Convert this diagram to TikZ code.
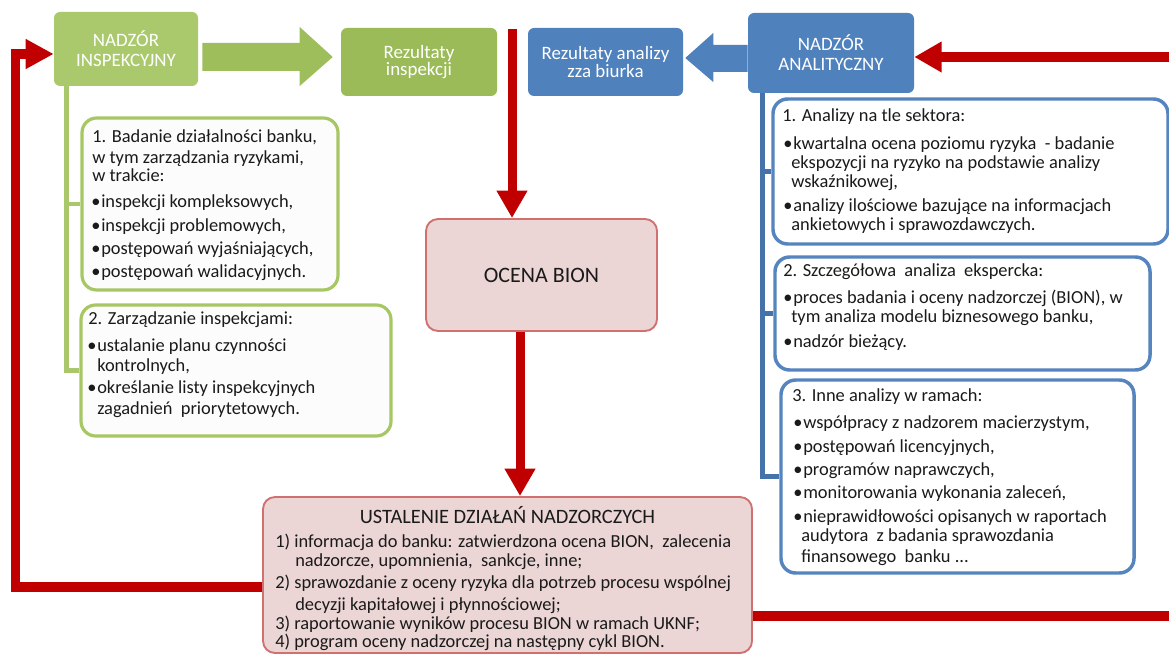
\documentclass[tikz,border=0pt]{standalone}
\usepackage{fontspec}
\setmainfont{Carlito}
\usetikzlibrary{arrows.meta,calc}

\definecolor{grnlt}{HTML}{AAC96C}
\definecolor{grn}{HTML}{9BBB59}
\definecolor{grnarrow}{HTML}{9EBE5C}
\definecolor{grnline}{HTML}{A9C86B}
\definecolor{grnedge}{HTML}{A6C763}
\definecolor{blu}{HTML}{4F81BD}
\definecolor{bluedge}{HTML}{5584BE}
\definecolor{bluline}{HTML}{4672AC}
\definecolor{redc}{HTML}{C00000}
\definecolor{pinkfill}{HTML}{EBD5D5}
\definecolor{pinkdraw}{HTML}{D07070}
\definecolor{boxfill}{HTML}{FCFCFC}
\definecolor{ink}{HTML}{1A1A1A}

\newcommand\fbody{\fontsize{13.8pt}{15pt}\selectfont}
\newcommand\fhdr{\fontsize{14.2pt}{15pt}\selectfont}
\newcommand\fhdrtight{\fontsize{14.2pt}{12pt}\selectfont}
\newcommand\focena{\fontsize{16.5pt}{18pt}\selectfont}
\newcommand\ftitle{\fontsize{15.3pt}{17pt}\selectfont}
\newcommand\blt{\makebox[7.5pt][l]{•}}
\newcommand\tline[4]{\node[txt] (#1) at (#2,#3) {#4};}

\tikzset{
  hdr/.style={rounded corners=4.5pt, inner sep=0pt, text=white, align=center},
  grnbox/.style={draw=grnedge, fill=boxfill, line width=2.4pt, rounded corners=11pt, inner sep=0pt},
  blubox/.style={draw=bluedge, fill=white, line width=2.6pt, rounded corners=11pt, inner sep=0pt},
  pinkbox/.style={draw=pinkdraw, fill=pinkfill, line width=1.4pt, rounded corners=9pt, inner sep=0pt},
  txt/.style={anchor=base west, inner sep=0pt, text=ink, font=\fbody},
  gline/.style={draw=grnline, line width=3.6pt},
  bline/.style={draw=bluline, line width=3.6pt},
  redarrow/.style={draw=redc, line width=6.75pt, -{Triangle[width=21.75pt,length=20.5pt]}},
  redline/.style={draw=redc, line width=7pt, line join=miter},
}

\begin{document}
\begin{tikzpicture}[x=0.75pt,y=-0.75pt]
\useasboundingbox (0,0) rectangle (1169,655);
\clip (0,0) rectangle (1169,655);

% header boxes
\node[hdr, fill=grnlt, minimum width=108pt, minimum height=55.5pt, font=\fhdr] (ni) at (126,49) {NADZÓR\\INSPEKCYJNY};
\node[hdr, fill=grn, minimum width=117pt, minimum height=51pt, font=\fhdrtight] (ri) at (419,62) {Rezultaty\\inspekcji};
\node[hdr, fill=blu, minimum width=116.25pt, minimum height=51pt, font=\fhdrtight] (ra) at (605.5,62) {Rezultaty analizy\\zza biurka};
\node[hdr, fill=blu, minimum width=124.5pt, minimum height=60pt, font=\fhdr] (na) at (831,53) {NADZÓR\\ANALITYCZNY};

% block arrows between header boxes
\coordinate (ga0) at ($(ni.east)+(4,8)$);
\coordinate (ga1) at ($(ri.west)+(-8,-5)$);
\fill[grnarrow] ($(ga0)+(0,-14)$) -- ($(ga1)+(-33,-14)$) -- ($(ga1)+(-33,-30)$) -- (ga1)
  -- ($(ga1)+(-33,29)$) -- ($(ga1)+(-33,14)$) -- ($(ga0)+(0,14)$) -- cycle;
\coordinate (ba0) at ($(na.west)+(0,5)$);
\coordinate (ba1) at ($(ra.east)+(2,-4)$);
\fill[blu] ($(ba0)+(0,-13)$) -- ($(ba1)+(28,-13)$) -- ($(ba1)+(28,-25)$) -- (ba1)
  -- ($(ba1)+(28,24)$) -- ($(ba1)+(28,14)$) -- ($(ba0)+(0,14)$) -- cycle;

% central boxes
\node[pinkbox, minimum width=173.25pt, minimum height=84pt, font=\focena, text=ink] (ocena) at (541.5,275) {OCENA BION};
\node[pinkbox, minimum width=366.75pt, minimum height=117pt] (bottom) at (507.5,575) {};

% inspection side boxes
\node[grnbox, minimum width=192pt, minimum height=129pt] (box1) at (210,204) {};
\node[grnbox, minimum width=232.5pt, minimum height=98.25pt] (box2) at (236,370.5) {};
% analytic side boxes
\node[blubox, minimum width=296.25pt, minimum height=108.75pt] (a1) at (970.5,171.5) {};
\node[blubox, minimum width=281.25pt, minimum height=84.75pt] (a2) at (962.5,313.5) {};
\node[blubox, minimum width=264.75pt, minimum height=144.75pt] (a3) at (957.5,476.5) {};

% tree connectors
\coordinate (gtrunk) at ($(ni.south west)+(13,0)$);
\draw[gline] (gtrunk) |- (box2.west);
\draw[gline] (gtrunk) |- (box1.west);
\coordinate (btrunk) at ($(na.south west)+(15,0)$);
\draw[bline] (btrunk) |- (a3.west);
\draw[bline] (btrunk) |- (a2.west);
\draw[bline] (btrunk) |- (a1.west);

% red flow
\coordinate (rtop) at (512,29);
\draw[redarrow] (rtop) -- (rtop |- ocena.north);
\coordinate (rmid) at (520,0);
\draw[redarrow] (ocena.south -| rmid) -- (bottom.north -| rmid);
\draw[redline, -{Triangle[width=21pt,length=21pt]}] ($(bottom.west)+(0,12)$) -| ($(ni.west)+(-38,5)$) -- ($(ni.west)+(0,5)$);
\coordinate (rin) at (1169,57);
\draw[redarrow, line width=8.2pt] (rin) -- (na.east |- rin);
\coordinate (rout) at (1169,616);
\draw[redline] ($(bottom.east)+(0,41)$) -- (rout);

% box texts: inspection
\tline{b1a}{92}{143}{1. Badanie działalności banku,}
\tline{b1b}{92}{164}{w tym zarządzania ryzykami,}
\tline{b1c}{92}{182}{w trakcie:}
\tline{b1d}{91}{208}{\blt inspekcji kompleksowych,}
\tline{b1e}{91}{232}{\blt inspekcji problemowych,}
\tline{b1f}{91}{255}{\blt postępowań wyjaśniających,}
\tline{b1g}{91}{278}{\blt postępowań walidacyjnych.}

\tline{b2a}{88}{325}{2. Zarządzanie inspekcjami:}
\tline{b2b}{87}{352}{\blt ustalanie planu czynności}
\tline{b2c}{97}{372}{kontrolnych,}
\tline{b2d}{87}{393}{\blt określanie listy inspekcyjnych}
\tline{b2e}{97}{414}{zagadnień~ priorytetowych.}

% box texts: analytic
\tline{a1a}{782}{122}{1. Analizy na tle sektora:}
\tline{a1b}{783}{150}{\blt kwartalna ocena poziomu ryzyka~ - badanie}
\tline{a1c}{791}{169}{ekspozycji na ryzyko na podstawie analizy}
\tline{a1d}{791}{188}{wskaźnikowej,}
\tline{a1e}{783}{212}{\blt analizy ilościowe bazujące na informacjach}
\tline{a1f}{791}{231}{ankietowych i sprawozdawczych.}

\tline{a2a}{783}{277}{2. Szczegółowa~ analiza~ ekspercka:}
\tline{a2b}{783}{304}{\blt proces badania i oceny nadzorczej (BION), w}
\tline{a2c}{791}{323}{tym analiza modelu biznesowego banku,}
\tline{a2d}{783}{348}{\blt nadzór bieżący.}

\tline{a3a}{792}{402}{3. Inne analizy w ramach:}
\tline{a3b}{793}{428}{\blt współpracy z nadzorem macierzystym,}
\tline{a3c}{793}{452}{\blt postępowań licencyjnych,}
\tline{a3d}{793}{475}{\blt programów naprawczych,}
\tline{a3e}{793}{498}{\blt monitorowania wykonania zaleceń,}
\tline{a3f}{793}{522}{\blt nieprawidłowości opisanych w raportach}
\tline{a3g}{801}{541}{audytora~ z badania sprawozdania}
\tline{a3h}{801}{562}{finansowego~ banku ...}

% supervisory actions
\node[anchor=base, inner sep=0pt, text=ink, font=\ftitle] (btitle) at (507.5,523) {USTALENIE DZIAŁAŃ NADZORCZYCH};
\tline{bl1}{275}{547}{1) informacja do banku: zatwierdzona ocena BION,~ zalecenia}
\tline{bl2}{295}{566}{nadzorcze, upomnienia,~ sankcje, inne;}
\tline{bl3}{275}{588}{2) sprawozdanie z oceny ryzyka dla potrzeb procesu wspólnej}
\tline{bl4}{295}{610}{decyzji kapitałowej i płynnościowej;}
\tline{bl5}{275}{629}{3) raportowanie wyników procesu BION w ramach UKNF;}
\tline{bl6}{275}{647}{4) program oceny nadzorczej na następny cykl BION.}
\end{tikzpicture}
\end{document}
